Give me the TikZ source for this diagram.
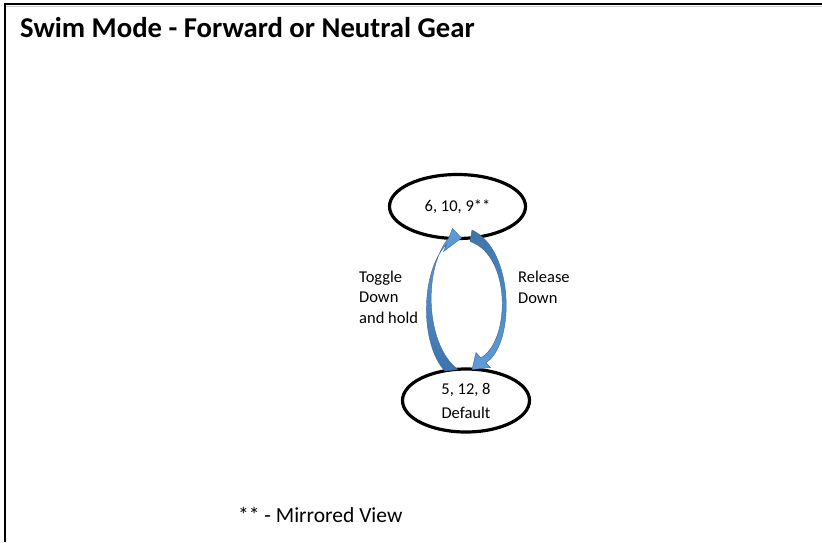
\documentclass[tikz,border=0pt]{standalone}
\usepackage{fontspec}
\setmainfont{Carlito}
\usetikzlibrary{shapes.geometric}
\definecolor{arrlight}{RGB}{95,157,216}
\definecolor{arrdark}{RGB}{62,116,172}
\definecolor{arredge}{RGB}{60,105,150}
\tikzset{
  statenode/.style={draw=black, line width=3.2pt, ellipse, inner sep=0pt, align=center, font=\fontsize{16.5}{24}\selectfont},
  lbl/.style={anchor=base west, align=left, inner sep=0pt, font=\fontsize{16.5}{20.5}\selectfont},
  border/.style={line width=2.2pt, black},
}
\begin{document}
\begin{tikzpicture}[x=1pt,y=-1pt]
\useasboundingbox (0,0) rectangle (822,542);
% frame (top and left edges only)
\draw[gray!40, line width=1pt] (5,6.2) -- (822,6.2);
\draw[border] (5,542) -- (5,4) -- (822,4);
% title
\node[anchor=base west, inner sep=0pt, font=\fontsize{28.7}{30}\selectfont\bfseries] (title) at (20,37) {Swim Mode - Forward or Neutral Gear};
% states
\node[statenode, minimum width=136pt, minimum height=64pt] (top) at (457.5,206.5) {6, 10, 9**};
\node[statenode, minimum width=127pt, minimum height=63pt] (bot) at (466,400.5) {5, 12, 8\\Default};
% left curved arrow (Toggle Down and hold), from bot up to top
\coordinate (lto) at (445,371);
\coordinate (lti) at (458,369.5);
\coordinate (lso) at (446.4,244.4);
\coordinate (lsi) at (448.8,237.8);
\coordinate (lb1) at (443.5,251.5);
\coordinate (lb2) at (452.5,228.5);
\coordinate (ltip) at (461.5,238);
\shade[top color=arrlight, bottom color=arrdark, draw=arredge, line width=0.4pt]
  (lto) .. controls (420,345) and (420,272) .. (lso) -- (lb1) -- (ltip) -- (lb2) -- (lsi)
  .. controls (423,268) and (425,345) .. (lti) -- cycle;
% right curved arrow (Release Down), from top down to bot
\coordinate (rto) at (472,230);
\coordinate (rti) at (470,241.5);
\coordinate (rso) at (485.8,362.8);
\coordinate (rsi) at (480.9,357.9);
\coordinate (rb1) at (490.5,367.5);
\coordinate (rb2) at (476,352.5);
\coordinate (rtip) at (472,369.5);
\shade[top color=arrdark, bottom color=arrlight, draw=arredge, line width=0.4pt]
  (rto) .. controls (515,250) and (515,345) .. (rso) -- (rb1) -- (rtip) -- (rb2) -- (rsi)
  .. controls (511,340) and (511,255) .. (rti) -- cycle;
% labels
\node[lbl] (toggle) at (359,323) {Toggle\\Down\\and hold};
\node[lbl] (release) at (518,303) {Release\\Down};
\node[anchor=base west, inner sep=0pt, font=\fontsize{21.5}{24}\selectfont] (note) at (238,522) {** - Mirrored View};
\end{tikzpicture}
\end{document}
